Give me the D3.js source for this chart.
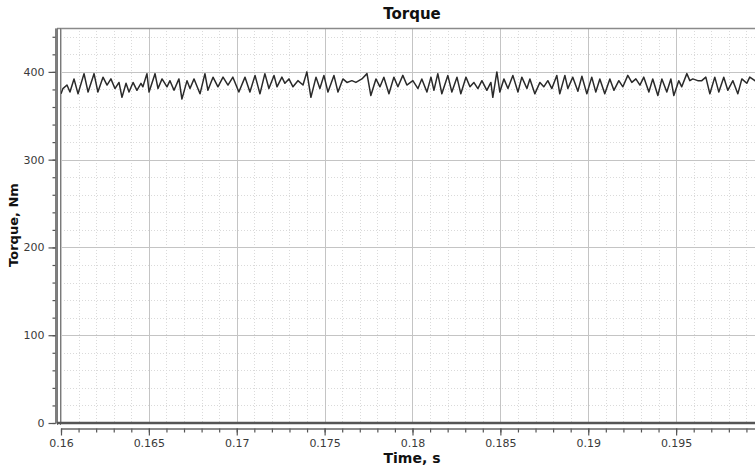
<!DOCTYPE html>
<html><head><meta charset="utf-8">
<script src="https://cdn.jsdelivr.net/npm/d3@7"></script>
<style>body{margin:0;background:#fff}svg{display:block;font-family:"DejaVu Sans",Verdana,sans-serif}</style>
</head><body><svg id="c" width="755" height="471"></svg>
<script>
const times=[0.16000,0.16011,0.16034,0.16051,0.16074,0.16097,0.16131,0.16154,0.16188,0.16210,0.16239,0.16262,0.16284,0.16307,0.16330,0.16347,0.16370,0.16387,0.16410,0.16432,0.16455,0.16466,0.16489,0.16501,0.16535,0.16552,0.16575,0.16603,0.16620,0.16643,0.16671,0.16688,0.16717,0.16734,0.16757,0.16791,0.16819,0.16836,0.16865,0.16893,0.16922,0.16950,0.16978,
0.17012,0.17047,0.17075,0.17104,0.17132,0.17160,0.17183,0.17212,0.17229,0.17257,0.17274,0.17297,0.17320,0.17348,0.17377,0.17399,0.17422,0.17451,0.17473,0.17496,0.17519,0.17553,0.17576,0.17604,0.17627,0.17655,0.17678,0.17712,0.17741,0.17763,0.17792,0.17815,0.17837,0.17866,0.17894,0.17917,0.17945,0.17968,
0.18002,0.18031,0.18053,0.18082,0.18105,0.18122,0.18144,0.18167,0.18201,0.18224,0.18253,0.18275,0.18304,0.18327,0.18349,0.18372,0.18395,0.18423,0.18446,0.18457,0.18480,0.18497,0.18520,0.18543,0.18571,0.18600,0.18622,0.18651,0.18668,0.18696,0.18725,0.18747,0.18770,0.18793,0.18821,0.18838,0.18867,0.18884,0.18912,0.18941,0.18964,
0.18992,0.19020,0.19043,0.19066,0.19094,0.19123,0.19146,0.19174,0.19197,0.19225,0.19248,0.19271,0.19294,0.19316,0.19345,0.19367,0.19396,0.19419,0.19447,0.19470,0.19487,0.19515,0.19532,0.19561,0.19578,0.19595,0.19623,0.19646,0.19669,0.19692,0.19720,0.19743,0.19771,0.19794,0.19823,0.19851,0.19874,0.19902,0.19919,0.19948,0.19977];
const torque=[375,381,385,377,392,375,398,377,398,377,394,385,392,381,388,371,387,377,388,379,387,383,398,377,398,381,392,383,390,379,392,369,390,381,392,375,398,379,394,383,394,385,394,
377,394,377,396,375,398,381,396,383,394,387,392,383,390,385,400,371,394,381,396,377,396,377,392,388,390,388,392,398,373,392,383,394,375,394,383,396,385,
390,381,392,377,394,379,398,375,396,377,394,375,394,383,388,381,390,379,388,371,400,377,392,381,396,377,394,381,392,375,388,383,390,381,396,375,396,381,394,378,395,
375,394,377,392,375,392,379,390,383,396,388,392,385,394,377,392,373,392,377,392,373,390,383,398,390,392,390,390,394,375,394,377,394,379,390,375,392,387,394,390,385];
const xMajorTicks=[0.16,0.165,0.17,0.175,0.18,0.185,0.19,0.195];
const yMajorTicks=[0,100,200,300,400];
const xDomain=[0.16,0.2];
const yDomain=[0,450];
const titleText="Torque", xLabelText="Time, s", yLabelText="Torque, Nm";

const svg=d3.select("#c");
const L=61,R=764,T=28,B=423;
const x=d3.scaleLinear().domain(xDomain).range([L,R]);
const y=d3.scaleLinear().domain(yDomain).range([B,T]);
const xMinor=d3.range(0,41).map(i=>0.16+i*0.001);
const yMinor=d3.range(0,23).map(i=>i*20);

// grid
const g=svg.append("g");
g.selectAll(".vmin").data(xMinor).join("line").attr("x1",d=>Math.round(x(d))+0.5).attr("x2",d=>Math.round(x(d))+0.5)
 .attr("y1",T).attr("y2",B).attr("stroke","#dadada").attr("stroke-dasharray","1,2");
g.selectAll(".hmin").data(yMinor).join("line").attr("y1",d=>Math.round(y(d))+0.5).attr("y2",d=>Math.round(y(d))+0.5)
 .attr("x1",L).attr("x2",R).attr("stroke","#dadada").attr("stroke-dasharray","1,2");
g.selectAll(".vmaj").data(xMajorTicks).join("line").attr("x1",d=>Math.round(x(d))+0.5).attr("x2",d=>Math.round(x(d))+0.5)
 .attr("y1",T).attr("y2",B).attr("stroke","#c4c4c4");
g.selectAll(".hmaj").data(yMajorTicks).join("line").attr("y1",d=>Math.round(y(d))+0.5).attr("y2",d=>Math.round(y(d))+0.5)
 .attr("x1",L).attr("x2",R).attr("stroke","#c4c4c4");

// frame
svg.append("line").attr("x1",L-4).attr("x2",R).attr("y1",T+0.5).attr("y2",T+0.5).attr("stroke","#8a8a8a").attr("stroke-width",1.5);
svg.append("line").attr("x1",57.5).attr("x2",57.5).attr("y1",T).attr("y2",B+2).attr("stroke","#7a7a7a");
svg.append("line").attr("x1",60.5).attr("x2",60.5).attr("y1",T).attr("y2",B+2).attr("stroke","#7a7a7a");

// series
svg.append("defs").append("clipPath").attr("id","clip").append("rect").attr("x",L).attr("y",T).attr("width",R-L).attr("height",B-T);
const data=times.map((t,i)=>({t,v:torque[i]}));
svg.append("path").datum(data).attr("clip-path","url(#clip)")
 .attr("d",d3.line().x(d=>x(d.t)).y(d=>y(d.v)))
 .attr("fill","none").attr("stroke","#2a2a2a").attr("stroke-width",1.5).attr("stroke-linejoin","round");

svg.append("line").attr("x1",57).attr("x2",R).attr("y1",B).attr("y2",B).attr("stroke","#555").attr("stroke-width",2.5);

// axes
const fmt=d=>String(+d.toFixed(3));
const yAxMin=svg.append("g").attr("transform","translate(55.5,0)")
 .call(d3.axisLeft(y).tickValues(yMinor).tickSize(3).tickSizeOuter(0).tickFormat(""));
const yAx=svg.append("g").attr("transform","translate(55.5,0)")
 .call(d3.axisLeft(y).tickValues(yMajorTicks).tickSize(7).tickSizeOuter(0).tickPadding(4).tickFormat(d3.format("d")));
const xAxMin=svg.append("g").attr("transform","translate(0,428.5)")
 .call(d3.axisBottom(x).tickValues(xMinor).tickSize(4).tickSizeOuter(0).tickFormat(""));
const xAx=svg.append("g").attr("transform","translate(0,428.5)")
 .call(d3.axisBottom(x).tickValues(xMajorTicks).tickSize(7).tickSizeOuter(0).tickPadding(4).tickFormat(fmt));
[yAxMin,yAx,xAxMin,xAx].forEach(a=>{
  a.selectAll("path.domain").attr("stroke","#666").attr("stroke-width",1.2);
  a.selectAll(".tick line").attr("stroke","#555").attr("stroke-width",1.2);
  a.selectAll("text").attr("font-size",11).attr("fill","#3a3a3a").attr("font-family","DejaVu Sans, sans-serif");
});

// titles
svg.append("text").attr("x",412).attr("y",19).attr("text-anchor","middle").attr("font-weight","bold").attr("font-size",15).attr("fill","#111").text(titleText);
svg.append("text").attr("x",412).attr("y",463).attr("text-anchor","middle").attr("font-weight","bold").attr("font-size",14).attr("fill","#111").text(xLabelText);
svg.append("text").attr("transform","translate(18,225) rotate(-90)").attr("text-anchor","middle").attr("font-weight","bold").attr("font-size",13).attr("fill","#111").text(yLabelText);
</script></body></html>
